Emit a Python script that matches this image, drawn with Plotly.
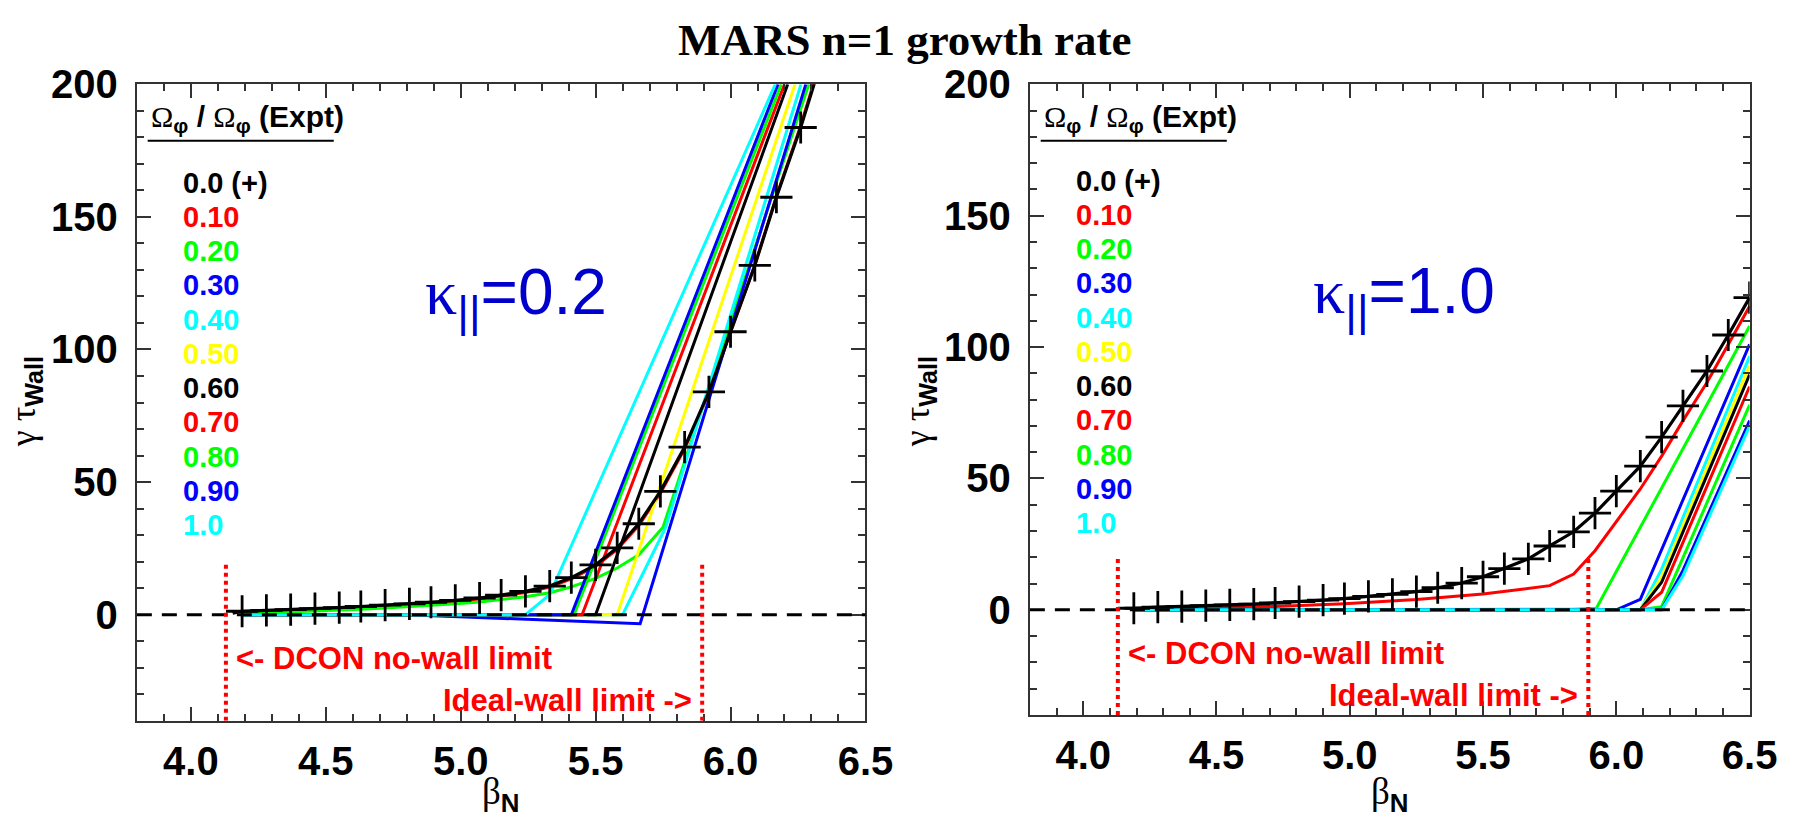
import plotly.graph_objects as go

W, H = 1816, 822

# ---------------- data ----------------
RATIOS = ["0.0 (+)", "0.10", "0.20", "0.30", "0.40", "0.50", "0.60", "0.70", "0.80", "0.90", "1.0"]
COLORS = ["#000000", "#FF0000", "#00FF00", "#0000FF", "#00FFFF", "#FFFF00",
          "#000000", "#FF0000", "#00FF00", "#0000FF", "#00FFFF"]

DCON_LIMIT = 4.13
IDEAL_WALL_LIMIT = 5.895

# ---- kappa_par = 0.2 (left) ----
BETA_L = [4.19, 4.28, 4.37, 4.46, 4.55, 4.63, 4.72, 4.81, 4.89, 4.98, 5.07, 5.15, 5.24,
          5.33, 5.41, 5.50, 5.58, 5.66, 5.74, 5.83, 5.92, 6.00, 6.09, 6.17, 6.26, 6.34]
G00_L = [1.3, 1.6, 1.9, 2.3, 2.7, 3.1, 3.6, 4.1, 4.7, 5.4, 6.3, 7.4, 8.8,
         10.8, 14.0, 18.8, 25.2, 34.3, 46.5, 63.2, 84.0, 106.7, 131.7, 157.4, 183.7, 210.0]
G01_L = [0.9, 1.2, 1.5, 1.9, 2.3, 2.7, 3.2, 3.7, 4.3, 5.0, 5.9, 7.0, 8.4,
         10.4, 13.5, 18.3, 24.6, 33.6, 45.8, 62.5, 83.5, 106.5, 131.8, 157.8, 184.5, 211.0]
B02_L = [4.19, 4.28, 4.37, 4.46, 4.55, 4.63, 4.72, 4.81, 4.89, 4.98, 5.07, 5.15, 5.24,
         5.33, 5.41, 5.50, 5.58, 5.66, 5.75, 6.29]
G02_L = [0.4, 0.7, 1.0, 1.3, 1.7, 2.1, 2.5, 3.0, 3.5, 4.1, 4.8, 5.7, 6.8,
         8.3, 10.5, 13.7, 17.6, 22.6, 33.0, 200.0]
B03_L = [4.19, 4.80, 5.665, 6.279]
G03_L = [0.0, 0.0, -3.4, 200.0]
B04_L = [4.19, 5.60, 5.76, 6.261]
G04_L = [0.0, 0.0, 33.0, 200.0]
B05_L = [4.19, 5.58, 6.239]
G05_L = [0.0, 0.0, 200.0]
B06_L = [4.19, 5.50, 6.212]
G06_L = [0.0, 0.0, 200.0]
B07_L = [4.19, 5.45, 6.20]
G07_L = [0.0, 0.0, 200.0]
B08_L = [4.19, 5.42, 6.188]
G08_L = [0.0, 0.0, 200.0]
B09_L = [4.19, 5.41, 6.176]
G09_L = [0.0, 0.0, 200.0]
B10_L = [4.19, 5.24, 5.33, 6.166]
G10_L = [0.0, 0.0, 7.6, 200.0]

# ---- kappa_par = 1.0 (right) ----
BETA_R = [4.19, 4.28, 4.37, 4.46, 4.55, 4.64, 4.72, 4.81, 4.90, 4.98, 5.07, 5.16, 5.25, 5.33,
          5.42, 5.50, 5.58, 5.67, 5.75, 5.84, 5.92, 6.00, 6.09, 6.17, 6.25, 6.34, 6.42, 6.50]
G00_R = [0.6, 1.0, 1.2, 1.6, 1.9, 2.2, 2.6, 3.1, 3.7, 4.3, 5.1, 5.9, 6.9, 8.4,
         10.2, 12.6, 15.7, 19.4, 24.3, 29.7, 36.8, 45.2, 54.7, 65.7, 77.6, 90.9, 104.6, 118.8]
B01_R = [4.19, 4.46, 4.72, 4.98, 5.25, 5.50, 5.75, 5.84, 5.92, 6.00, 6.09, 6.17, 6.25, 6.34, 6.42, 6.50]
G01_R = [0.2, 0.6, 1.3, 2.3, 3.9, 6.0, 9.2, 13.6, 22.5, 33.7, 46.0, 58.5, 72.0, 86.5, 101.0, 115.5]
B02_R = [4.19, 5.84, 5.925, 6.50]
G02_R = [0.0, 0.2, 0.6, 108.0]
B03_R = [4.19, 6.00, 6.09, 6.50]
G03_R = [0.0, 0.0, 4.0, 101.0]
B04_R = [4.19, 6.09, 6.17, 6.50]
G04_R = [0.0, 0.0, 15.5, 96.5]
B05_R = [4.19, 6.09, 6.17, 6.50]
G05_R = [0.0, 0.0, 12.5, 93.0]
B06_R = [4.19, 6.09, 6.17, 6.50]
G06_R = [0.0, 0.0, 10.5, 89.5]
B07_R = [4.19, 6.09, 6.17, 6.50]
G07_R = [0.0, 0.0, 6.7, 85.0]
B08_R = [4.19, 6.09, 6.17, 6.50]
G08_R = [0.0, 0.0, 1.2, 78.0]
B09_R = [4.19, 6.17, 6.25, 6.50]
G09_R = [0.0, 0.0, 15.0, 72.0]
B10_R = [4.19, 6.17, 6.25, 6.50]
G10_R = [0.0, 0.0, 13.0, 70.0]

LINE_START = [4.155, 0.6]   # black 0.0 line starts slightly before the first '+'

# ---------------- figure ----------------
fig = go.Figure()

def add_panel(xa, ya, beta0, g0, curves):
    for (b, g), col in zip(curves, COLORS[1:]):
        fig.add_trace(go.Scatter(x=b, y=g, mode="lines", line=dict(color=col, width=3),
                                 xaxis=xa, yaxis=ya, hoverinfo="skip", showlegend=False))
    fig.add_trace(go.Scatter(x=[LINE_START[0]] + beta0, y=[LINE_START[1]] + g0, mode="lines",
                             line=dict(color="black", width=3.2),
                             xaxis=xa, yaxis=ya, hoverinfo="skip", showlegend=False))
    fig.add_trace(go.Scatter(x=beta0, y=g0, mode="markers",
                             marker=dict(symbol="cross-thin", size=23, color="black",
                                         line=dict(width=2.8, color="black")),
                             xaxis=xa, yaxis=ya, hoverinfo="skip", showlegend=False))

add_panel("x", "y", BETA_L, G00_L,
          [(BETA_L, G01_L), (B02_L, G02_L), (B03_L, G03_L), (B04_L, G04_L), (B05_L, G05_L),
           (B06_L, G06_L), (B07_L, G07_L), (B08_L, G08_L), (B09_L, G09_L), (B10_L, G10_L)])
add_panel("x2", "y2", BETA_R, G00_R,
          [(B01_R, G01_R), (B02_R, G02_R), (B03_R, G03_R), (B04_R, G04_R), (B05_R, G05_R),
           (B06_R, G06_R), (B07_R, G07_R), (B08_R, G08_R), (B09_R, G09_R), (B10_R, G10_R)])

SANS = "Liberation Sans"
SERIF = "Liberation Serif"
TICKFONT = dict(family=SANS, size=40, color="black", weight="bold")
AXCOL = "#333333"

def xaxis_cfg(dom):
    return dict(domain=dom, range=[3.8, 6.5], tick0=4.0, dtick=0.5, tickformat=".1f",
                ticks="inside", ticklen=14, tickwidth=1.5, tickcolor=AXCOL,
                minor=dict(dtick=0.1, tick0=4.0, ticks="inside", ticklen=7, tickwidth=1.5, tickcolor=AXCOL),
                showline=True, linecolor=AXCOL, linewidth=2, mirror="allticks",
                showgrid=False, zeroline=False, tickfont=TICKFONT, ticklabelstandoff=4)

def yaxis_cfg(dom):
    return dict(domain=dom, range=[-40, 200], tick0=0, dtick=50,
                ticks="inside", ticklen=14, tickwidth=1.5, tickcolor=AXCOL,
                minor=dict(dtick=10, tick0=0, ticks="inside", ticklen=7, tickwidth=1.5, tickcolor=AXCOL),
                showline=True, linecolor=AXCOL, linewidth=2, mirror="allticks",
                showgrid=False, zeroline=False, tickfont=TICKFONT, ticklabelstandoff=9)

L_X0, L_X1, L_Y0, L_Y1 = 139, 879, 64, 718
R_X0, R_X1, R_Y0, R_Y1 = 1046, 1777, 64, 712

fig.update_layout(
    width=W, height=H, margin=dict(l=0, r=0, t=0, b=0),
    paper_bgcolor="white", plot_bgcolor="white",
    xaxis=dict(xaxis_cfg([L_X0 / W, L_X1 / W]), anchor="y"),
    yaxis=dict(yaxis_cfg([1 - L_Y1 / H, 1 - L_Y0 / H]), anchor="x"),
    xaxis2=dict(xaxis_cfg([R_X0 / W, R_X1 / W]), anchor="y2"),
    yaxis2=dict(yaxis_cfg([1 - R_Y1 / H, 1 - R_Y0 / H]), anchor="x2"),
)

shapes = []
annos = []

for xa, ya, x0px, ylab_x, kappa_text, ly0 in [("x", "y", L_X0, 26, "=0.2", 165),
                                               ("x2", "y2", R_X0, 934, "=1.0", 163)]:
    shapes.append(dict(type="line", xref=xa + " domain", yref=ya, x0=0, x1=1, y0=0, y1=0,
                       line=dict(color="black", width=3, dash="15px,10px"), layer="above"))
    for xv in (DCON_LIMIT, IDEAL_WALL_LIMIT):
        shapes.append(dict(type="line", xref=xa, yref=ya, x0=xv, x1=xv, y0=-40, y1=20,
                           line=dict(color="#FF0000", width=4, dash="4px,4px"), layer="above"))
    annos.append(dict(xref=xa, yref=ya, x=DCON_LIMIT + 0.03, y=-16.5, xanchor="left", yanchor="middle",
                      text="<- DCON no-wall limit", showarrow=False,
                      font=dict(family=SANS, size=31, color="#FF0000", weight="bold")))
    annos.append(dict(xref=xa, yref=ya, x=IDEAL_WALL_LIMIT - 0.03, y=-32.5, xanchor="right", yanchor="middle",
                      text="Ideal-wall limit ->", showarrow=False,
                      font=dict(family=SANS, size=31, color="#FF0000", weight="bold")))
    annos.append(dict(xref=xa + " domain", yref=ya, x=0.52, y=120, xanchor="center", yanchor="middle",
                      text='<span style="font-family:Liberation Serif">κ</span><sub>||</sub>' + kappa_text,
                      showarrow=False, font=dict(family=SANS, size=64, color="#0000CD")))
    annos.append(dict(xref="paper", yref="paper", x=(x0px + 12) / W, y=1 - 99 / H,
                      xanchor="left", yanchor="middle", showarrow=False,
                      text='<span style="font-family:Liberation Serif;font-weight:normal">Ω</span><sub>φ</sub> / '
                           '<span style="font-family:Liberation Serif;font-weight:normal">Ω</span><sub>φ</sub> (Expt)',
                      font=dict(family=SANS, size=30, color="black", weight="bold")))
    shapes.append(dict(type="line", xref="paper", yref="paper", x0=(x0px + 11) / W, x1=(x0px + 200) / W,
                       y0=1 - 122 / H, y1=1 - 122 / H, line=dict(color="black", width=2)))
    for i, (lab, col) in enumerate(zip(RATIOS, COLORS)):
        annos.append(dict(xref="paper", yref="paper", x=(x0px + 45) / W, y=1 - (ly0 + i * 35.2) / H,
                          xanchor="left", yanchor="middle", showarrow=False, text=lab,
                          font=dict(family=SANS, size=29, color=col, weight="bold")))
    annos.append(dict(xref="paper", yref="paper", x=ylab_x / W, y=1 - 390 / H, textangle=-90,
                      xanchor="center", yanchor="middle", showarrow=False,
                      text='<span style="font-family:Liberation Serif">γ τ</span><sub><b>Wall</b></sub>',
                      font=dict(family=SANS, size=36, color="black")))
    annos.append(dict(xref=xa + " domain", yref="paper", x=0.5, y=1 - 793 / H,
                      xanchor="center", yanchor="middle", showarrow=False,
                      text='<span style="font-family:Liberation Serif">β</span><sub><b>N</b></sub>',
                      font=dict(family=SANS, size=37, color="black")))

annos.append(dict(xref="paper", yref="paper", x=919 / W, y=1 - 19 / H, xanchor="center", yanchor="middle",
                  showarrow=False, text="MARS n=1 growth rate",
                  font=dict(family=SERIF, size=45, color="black", weight="bold")))

fig.update_layout(shapes=shapes, annotations=annos)
fig.write_html("out.html",
               post_script="document.body.style.margin='0';document.body.style.overflow='hidden';")
